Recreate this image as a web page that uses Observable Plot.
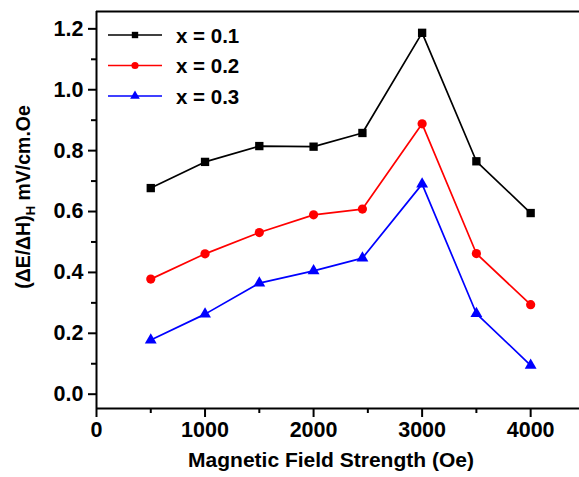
<!DOCTYPE html>
<html><head>
<meta charset="utf-8">
<script src="https://cdn.jsdelivr.net/npm/d3@7"></script>
<script src="https://cdn.jsdelivr.net/npm/@observablehq/plot@0.6"></script>
<style>
body{margin:0;background:#fff}
#c{position:relative;width:579px;height:477px;overflow:hidden}
#c svg{position:absolute;left:0;top:0}
</style>
</head><body><div id="c"></div>
<script>
const field = [500, 1000, 1500, 2000, 2450, 3000, 3500, 4000];
const s01 = [0.677, 0.763, 0.815, 0.813, 0.858, 1.187, 0.765, 0.595];
const s02 = [0.378, 0.461, 0.531, 0.589, 0.608, 0.888, 0.462, 0.294];
const s03 = [0.178, 0.263, 0.365, 0.405, 0.447, 0.690, 0.265, 0.095];
const seriesNames = ["x = 0.1", "x = 0.2", "x = 0.3"];
const seriesValues = [s01, s02, s03];
const colors = ["#000000", "#ff0000", "#0000ff"];
const symbols = ["square", "circle", "triangle"];
const symbolR = [4.7, 4.6, 4.4];
const xTicks = [0, 1000, 2000, 3000, 4000];
const xMinor = [500, 1500, 2500, 3500];
const yTicks = [0, 0.2, 0.4, 0.6, 0.8, 1.0, 1.2];
const yMinor = [0.1, 0.3, 0.5, 0.7, 0.9, 1.1];
const xDomain = [0, 4450];
const yDomain = [-0.047, 1.257];
const xTitle = "Magnetic Field Strength (Oe)";

const data = seriesNames.flatMap((s, i) => field.map((f, j) => ({field: f, value: seriesValues[i][j], series: s})));
const FONT = "'Liberation Sans', Arial, Helvetica, sans-serif";

const dots = seriesNames.map((s, i) =>
  Plot.dot(data.filter(d => d.series === s), {x: "field", y: "value", fill: colors[i], stroke: "none", symbol: () => symbols[i], r: symbolR[i]})
);

const chart = Plot.plot({
  width: 579, height: 477,
  marginLeft: 96, marginRight: 0, marginTop: 11, marginBottom: 69,
  style: {fontFamily: FONT, fontWeight: "bold", fontSize: "21.5px", color: "#000", background: "#fff", overflow: "visible"},
  x: {domain: xDomain},
  y: {domain: yDomain},
  symbol: {domain: symbols, range: symbols},
  marks: [
    Plot.axisX(xTicks, {tickSize: 9, tickPadding: 4, strokeWidth: 2, tickFormat: d => String(d), label: null, fontSize: 21.5, fontWeight: "bold"}),
    Plot.axisX(xMinor, {tickSize: 5, strokeWidth: 2, tickFormat: () => "", label: null}),
    Plot.axisY(yTicks, {tickSize: 8, tickPadding: 5, strokeWidth: 2, tickFormat: d3.format(".1f"), label: null, fontSize: 21.5, fontWeight: "bold"}),
    Plot.axisY(yMinor, {tickSize: 5, strokeWidth: 2, tickFormat: () => "", label: null}),
    Plot.ruleY(yDomain, {stroke: "#000", strokeWidth: 2}),
    Plot.ruleX([xDomain[0]], {stroke: "#000", strokeWidth: 2}),
    Plot.line(data, {x: "field", y: "value", z: "series", stroke: d => colors[seriesNames.indexOf(d.series)], strokeWidth: 1.7}),
    ...dots
  ]
});
document.getElementById("c").appendChild(chart);

const svg = d3.select(chart);
// x title
svg.append("text")
  .attr("x", 331).attr("y", 467)
  .attr("text-anchor", "middle")
  .style("font-family", FONT).style("font-weight", "bold").style("font-size", "21px")
  .attr("fill", "#000")
  .text(xTitle);
// y title
const yt = svg.append("text")
  .attr("transform", "translate(30,197) rotate(-90)")
  .attr("text-anchor", "middle")
  .style("font-family", FONT).style("font-weight", "bold").style("font-size", "19.5px")
  .attr("fill", "#000");
yt.append("tspan").text("(\u0394E/\u0394H)");
yt.append("tspan").attr("dy", 5).style("font-size", "13px").text("H");
yt.append("tspan").attr("dy", -5).text(" mV/cm.Oe");

// legend
const leg = svg.append("g");
seriesNames.forEach((s, i) => {
  const y = 35 + i * 30.5;
  leg.append("line").attr("x1", 108).attr("x2", 162).attr("y1", y).attr("y2", y)
    .attr("stroke", colors[i]).attr("stroke-width", 1.7);
  const sym = {square: d3.symbolSquare, circle: d3.symbolCircle, triangle: d3.symbolTriangle}[symbols[i]];
  leg.append("path").attr("d", d3.symbol(sym, Math.PI * 3.6 * 3.6)())
    .attr("transform", `translate(135,${y})`).attr("fill", colors[i]);
  leg.append("text").attr("x", 176).attr("y", y + 7.5)
    .attr("text-anchor", "start")
    .style("font-family", FONT).style("font-weight", "bold").style("font-size", "20.5px")
    .attr("fill", "#000").text(s);
});
</script>
</body></html>
